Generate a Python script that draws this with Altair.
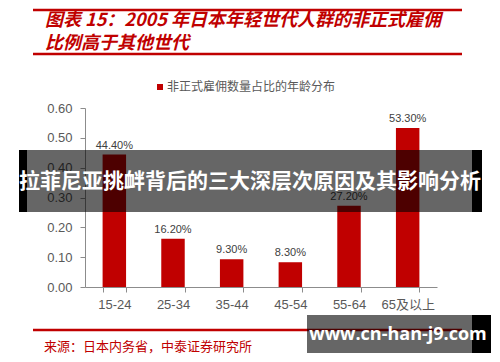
import altair as alt
import pandas as pd

categories = ["15-24", "25-34", "35-44", "45-54", "55-64", "65及以上"]
values = [0.444, 0.162, 0.093, 0.083, 0.272, 0.533]
y_ticks = [0.0, 0.1, 0.2, 0.3, 0.4, 0.5, 0.6]

title_line1 = "图表 15：2005 年日本年轻世代人群的非正式雇佣"
title_line2 = "比例高于其他世代"
legend_label = "非正式雇佣数量占比的年龄分布"
source_text = "来源：日本内务省，中泰证券研究所"
banner_text = "拉菲尼亚挑衅背后的三大深层次原因及其影响分析"
watermark_text = "www.cn-han-j9.com"

RED = "#C00000"
GRAY = "#595959"
CJK = "Noto Sans CJK SC"
LAT = "Liberation Sans, Noto Sans CJK SC"

df = pd.DataFrame({"age": categories, "share": values})
one = pd.DataFrame({"k": [0]})

x_enc = alt.X("age:N", sort=categories, title=None,
              scale=alt.Scale(paddingInner=0.6, paddingOuter=0.3),
              axis=alt.Axis(labelAngle=0, labelFont=LAT, labelFontSize=13, labelColor=GRAY,
                            domainColor="#8c8c8c", tickColor="#8c8c8c", tickSize=5,
                            tickBand="extent", labelPadding=6, grid=False))
y_enc = alt.Y("share:Q", title=None,
              scale=alt.Scale(domain=[0, 0.6], nice=False),
              axis=alt.Axis(values=y_ticks, format=".2f", labelFont=LAT, labelFontSize=13,
                            labelColor=GRAY, domainColor="#8c8c8c", tickColor="#8c8c8c",
                            tickSize=5, labelPadding=8, grid=False, labelOverlap=False))

bars = alt.Chart(df).mark_bar(color=RED).encode(x=x_enc, y=y_enc)
labels = alt.Chart(df).mark_text(dy=-9, fontSize=11, font=LAT, color="#404040").encode(
    x=x_enc, y=y_enc, text=alt.Text("share:Q", format=".2%"))

def rule(y, x1, x2, w=2.5):
    return alt.Chart(one).mark_rule(color=RED, strokeWidth=w).encode(
        x=alt.value(x1), x2=alt.value(x2), y=alt.value(y))

def rect(x1, x2, y1, y2, color, op):
    return alt.Chart(one).mark_rect(color=color, opacity=op).encode(
        x=alt.value(x1), x2=alt.value(x2), y=alt.value(y1), y2=alt.value(y2))

def text(s, x, y, size, color, align="left", weight="normal", style="normal", font=CJK):
    return alt.Chart(one).mark_text(text=s, align=align, baseline="middle", fontSize=size,
                                    color=color, fontWeight=weight, fontStyle=style,
                                    font=font).encode(x=alt.value(x), y=alt.value(y))

legend_sq = alt.Chart(one).mark_square(color=RED, size=36, opacity=1).encode(
    x=alt.value(75), y=alt.value(-21))

layers = [
    rule(-98, -52, 377),
    text(title_line1, -40, -87, 18, RED, weight="bold", style="italic"),
    text(title_line2, -40, -64, 18, RED, weight="bold", style="italic"),
    rule(-54, -52, 377),
    legend_sq,
    text(legend_label, 82, -21, 12, GRAY),
    bars, labels,
    rule(222, -52, 377),
    text(source_text, -41, 239, 13, RED),
    rect(-66, 397, 42, 104, "black", 0.6),
    rect(-66, -58, 42, 104, "black", 1),
    rect(387, 397, 42, 104, "black", 1),
    text(banner_text, 165, 74, 21, "white", align="center", weight="bold"),
    rect(222, 387, 207, 245, "black", 0.6),
    rect(387, 406, 207, 245, "black", 1),
    text(watermark_text, 313, 227, 18, "white", align="center", weight="bold", font="Open Sans"),
]

chart = alt.layer(*layers).properties(
    width=352, height=179,
    autosize=alt.AutoSizeParams(type="none"),
    padding={"left": 77, "top": 100, "right": 55, "bottom": 67},
    background="white",
).configure_view(stroke=None)

chart.save("out.html", embed_options={"renderer": "svg", "actions": False})
